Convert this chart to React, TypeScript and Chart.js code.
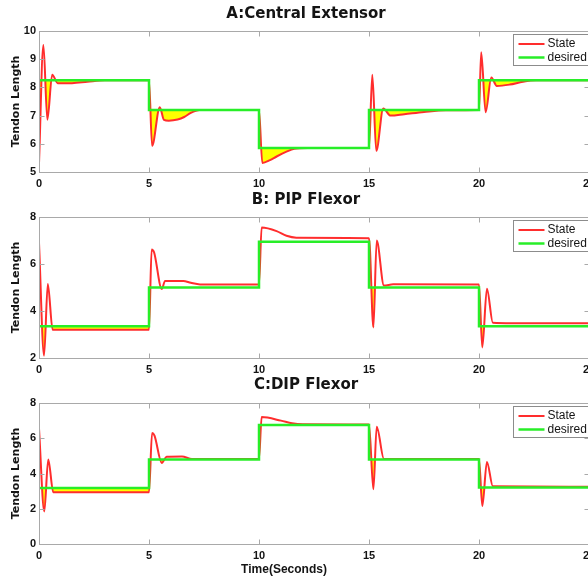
import React, { useEffect, useRef } from "react";
import { Chart, registerables } from "chart.js";

Chart.register(...registerables);

// ---------- data ----------
const stepTimes = [0, 5, 5, 10, 10, 15, 15, 20, 20, 25];

// A: Central Extensor
const timeA = [0, 0.2, 0.38, 0.6, 0.85, 1.5, 2.2, 3, 5, 5.14, 5.49, 5.68, 5.9, 6.3, 6.6, 6.9, 7.3, 10, 10.15, 10.5, 10.8, 11.25, 11.6, 12.2, 15, 15.15, 15.33, 15.65, 15.98, 16.6, 17.5, 18.5, 20, 20.1, 20.3, 20.56, 20.81, 21.4, 22, 22.6, 25];
const stateA = [5.3, 9.5, 6.85, 8.45, 8.15, 8.15, 8.2, 8.25, 8.25, 5.93, 7.3, 6.85, 6.82, 6.86, 6.95, 7.1, 7.2, 7.2, 5.32, 5.42, 5.55, 5.72, 5.82, 5.85, 5.85, 8.45, 5.75, 7.25, 7.0, 7.05, 7.13, 7.19, 7.2, 9.25, 7.12, 8.35, 8.05, 8.1, 8.2, 8.25, 8.25];
const desiredA = [8.25, 8.25, 7.2, 7.2, 5.85, 5.85, 7.2, 7.2, 8.25, 8.25];

// B: PIP Flexor
const timeB = [0, 0.23, 0.4, 0.62, 5, 5.12, 5.23, 5.58, 5.73, 6.56, 6.9, 7.32, 10, 10.12, 10.8, 11.25, 11.7, 15, 15.2, 15.35, 15.68, 16.1, 20, 20.15, 20.36, 20.63, 21.5, 25];
const stateB = [6.9, 2.1, 5.15, 3.2, 3.2, 6.62, 6.5, 4.94, 5.28, 5.28, 5.2, 5.13, 5.13, 7.55, 7.4, 7.2, 7.12, 7.1, 3.3, 7.0, 5.08, 5.14, 5.13, 2.45, 4.95, 3.5, 3.48, 3.48];
const desiredB = [3.35, 3.35, 5.0, 5.0, 6.95, 6.95, 5.0, 5.0, 3.35, 3.35];

// C: DIP Flexor
const timeC = [0, 0.24, 0.42, 0.65, 5, 5.14, 5.25, 5.58, 5.8, 6.5, 6.95, 10, 10.12, 11, 11.5, 12, 15, 15.2, 15.35, 15.68, 20, 20.15, 20.36, 20.63, 25];
const stateC = [6.55, 1.85, 4.8, 2.93, 2.93, 6.3, 6.15, 4.6, 4.95, 4.97, 4.82, 4.82, 7.2, 7.0, 6.85, 6.8, 6.78, 3.1, 6.65, 4.82, 4.82, 2.15, 4.65, 3.27, 3.25];
const desiredC = [3.18, 3.18, 4.8, 4.8, 6.75, 6.75, 4.8, 4.8, 3.2, 3.2];

const xTicks = [0, 5, 10, 15, 20, 25];
const seriesLabels = ["State", "desired"];

// ---------- styling ----------
const FONT = "'Liberation Sans', Arial, Helvetica, sans-serif";
const WIDE_FONT = "'DejaVu Sans', Verdana, sans-serif";
const RED = "rgb(255,45,45)";
const GREEN = "rgb(40,238,40)";
const YELLOW = "rgb(255,255,0)";
const BOX = "#a9a9a9";
const TEXT = "#141414";
const CANVAS_W = 612;

const zip = (xs: number[], ys: number[]) => xs.map((x, i) => ({ x, y: ys[i] }));

const panelDeco = {
  id: "panelDeco",
  afterDraw(chart: any, _args: any, opts: any) {
    const { ctx, chartArea: ca, scales } = chart;
    ctx.save();
    // axes box
    ctx.strokeStyle = BOX;
    ctx.lineWidth = 1;
    const L = Math.round(ca.left) + 0.5;
    const T = Math.round(ca.top) + 0.5;
    const R = Math.round(ca.right) + 0.5;
    const B = Math.round(ca.bottom) + 0.5;
    ctx.strokeRect(L, T, R - L, B - T);
    // inward ticks
    const tl = 5;
    ctx.beginPath();
    scales.x.ticks.forEach((t: any) => {
      const px = Math.round(scales.x.getPixelForValue(t.value)) + 0.5;
      ctx.moveTo(px, B);
      ctx.lineTo(px, B - tl);
      ctx.moveTo(px, T);
      ctx.lineTo(px, T + tl);
    });
    scales.y.ticks.forEach((t: any) => {
      const py = Math.round(scales.y.getPixelForValue(t.value)) + 0.5;
      ctx.moveTo(L, py);
      ctx.lineTo(L + tl, py);
      ctx.moveTo(R, py);
      ctx.lineTo(R - tl, py);
    });
    ctx.stroke();

    // legend (MATLAB style box, top-right)
    const lx = Math.round(ca.right) - 76 + 0.5;
    const ly = Math.round(ca.top) + 3 + 0.5;
    ctx.fillStyle = "#ffffff";
    ctx.fillRect(lx, ly, 100, 31);
    ctx.strokeStyle = "#8c8c8c";
    ctx.strokeRect(lx, ly, 100, 31);
    const ds = chart.data.datasets;
    ctx.font = `12px ${FONT}`;
    ctx.textAlign = "left";
    ctx.textBaseline = "middle";
    ds.forEach((d: any, i: number) => {
      const yy = ly + 9.5 + i * 13.5;
      ctx.strokeStyle = d.borderColor;
      ctx.lineWidth = d.borderWidth;
      ctx.beginPath();
      ctx.moveTo(lx + 5, yy);
      ctx.lineTo(lx + 31, yy);
      ctx.stroke();
      ctx.fillStyle = TEXT;
      ctx.fillText(d.label, lx + 34, yy);
    });

    // panel title
    ctx.fillStyle = TEXT;
    ctx.font = `bold 15px ${WIDE_FONT}`;
    ctx.textAlign = "center";
    ctx.textBaseline = "middle";
    ctx.fillText(opts.title, chart.width / 2, opts.titleY);
    if (opts.xlabel) {
      ctx.font = `bold 12px ${FONT}`;
      ctx.fillText(opts.xlabel, opts.xlabelX, opts.xlabelY);
    }
    ctx.restore();
  },
};

type PanelCfg = {
  title: string;
  top: number;
  height: number;
  areaTop: number;
  xAxisH: number;
  yMin: number;
  yMax: number;
  yStep: number;
  titleY: number;
  time: number[];
  state: number[];
  desired: number[];
  xlabel?: string;
};

const panels: PanelCfg[] = [
  { title: "A:Central Extensor", top: 0, height: 190, areaTop: 31, xAxisH: 18, yMin: 5, yMax: 10, yStep: 1, titleY: 14, time: timeA, state: stateA, desired: desiredA },
  { title: "B: PIP Flexor", top: 190, height: 185, areaTop: 27, xAxisH: 17, yMin: 2, yMax: 8, yStep: 2, titleY: 10, time: timeB, state: stateB, desired: desiredB },
  { title: "C:DIP Flexor", top: 375, height: 203, areaTop: 28, xAxisH: 34, yMin: 0, yMax: 8, yStep: 2, titleY: 10, time: timeC, state: stateC, desired: desiredC, xlabel: "Time(Seconds)" },
];

function Panel({ cfg }: { cfg: PanelCfg }) {
  const ref = useRef<HTMLCanvasElement | null>(null);
  useEffect(() => {
    if (!ref.current) return;
    const chart = new Chart(ref.current, {
      type: "line",
      data: {
        datasets: [
          {
            label: seriesLabels[0],
            data: zip(cfg.time, cfg.state),
            borderColor: RED,
            borderWidth: 2,
            pointRadius: 0,
            cubicInterpolationMode: "monotone",
            tension: 0.4,
            order: 1,
            fill: { target: 1, above: "rgba(0,0,0,0)", below: YELLOW },
          },
          {
            label: seriesLabels[1],
            data: zip(stepTimes, cfg.desired),
            borderColor: GREEN,
            borderWidth: 2.5,
            pointRadius: 0,
            tension: 0,
            order: 0,
            fill: false,
          },
        ],
      } as any,
      options: {
        animation: false,
        responsive: false,
        events: [],
        layout: { padding: { top: cfg.areaTop, left: 0, right: CANVAS_W - 589, bottom: 0 } },
        plugins: {
          legend: { display: false },
          tooltip: { enabled: false },
          title: { display: false },
          panelDeco: { title: cfg.title, titleY: cfg.titleY, xlabel: cfg.xlabel, xlabelX: 284, xlabelY: 195 },
        } as any,
        scales: {
          x: {
            type: "linear",
            min: 0,
            max: 25,
            afterFit: (s: any) => { s.height = cfg.xAxisH; },
            afterBuildTicks: (s: any) => { s.ticks = xTicks.map((v) => ({ value: v })); },
            grid: { display: false, drawTicks: false },
            border: { display: false },
            ticks: { padding: 5, color: TEXT, font: { family: FONT, size: 11, weight: "bold" }, maxRotation: 0, autoSkip: false },
          },
          y: {
            type: "linear",
            min: cfg.yMin,
            max: cfg.yMax,
            afterFit: (s: any) => { s.width = 39; },
            grid: { display: false, drawTicks: false },
            border: { display: false },
            ticks: { stepSize: cfg.yStep, padding: 3, color: TEXT, font: { family: FONT, size: 11, weight: "bold" } },
            title: { display: true, text: "Tendon Length", color: TEXT, font: { family: WIDE_FONT, size: 11, weight: "bold" }, padding: { top: 10, bottom: 0 } },
          },
        },
      } as any,
      plugins: [panelDeco as any],
    });
    return () => chart.destroy();
  }, [cfg]);
  return (
    <canvas
      ref={ref}
      width={CANVAS_W}
      height={cfg.height}
      style={{ position: "absolute", left: 0, top: cfg.top, width: CANVAS_W, height: cfg.height }}
    />
  );
}

export default function App() {
  return (
    <div style={{ position: "fixed", left: 0, top: 0, width: 588, height: 578, overflow: "hidden", background: "#fff" }}>
      {panels.map((p) => (
        <Panel key={p.title} cfg={p} />
      ))}
    </div>
  );
}
